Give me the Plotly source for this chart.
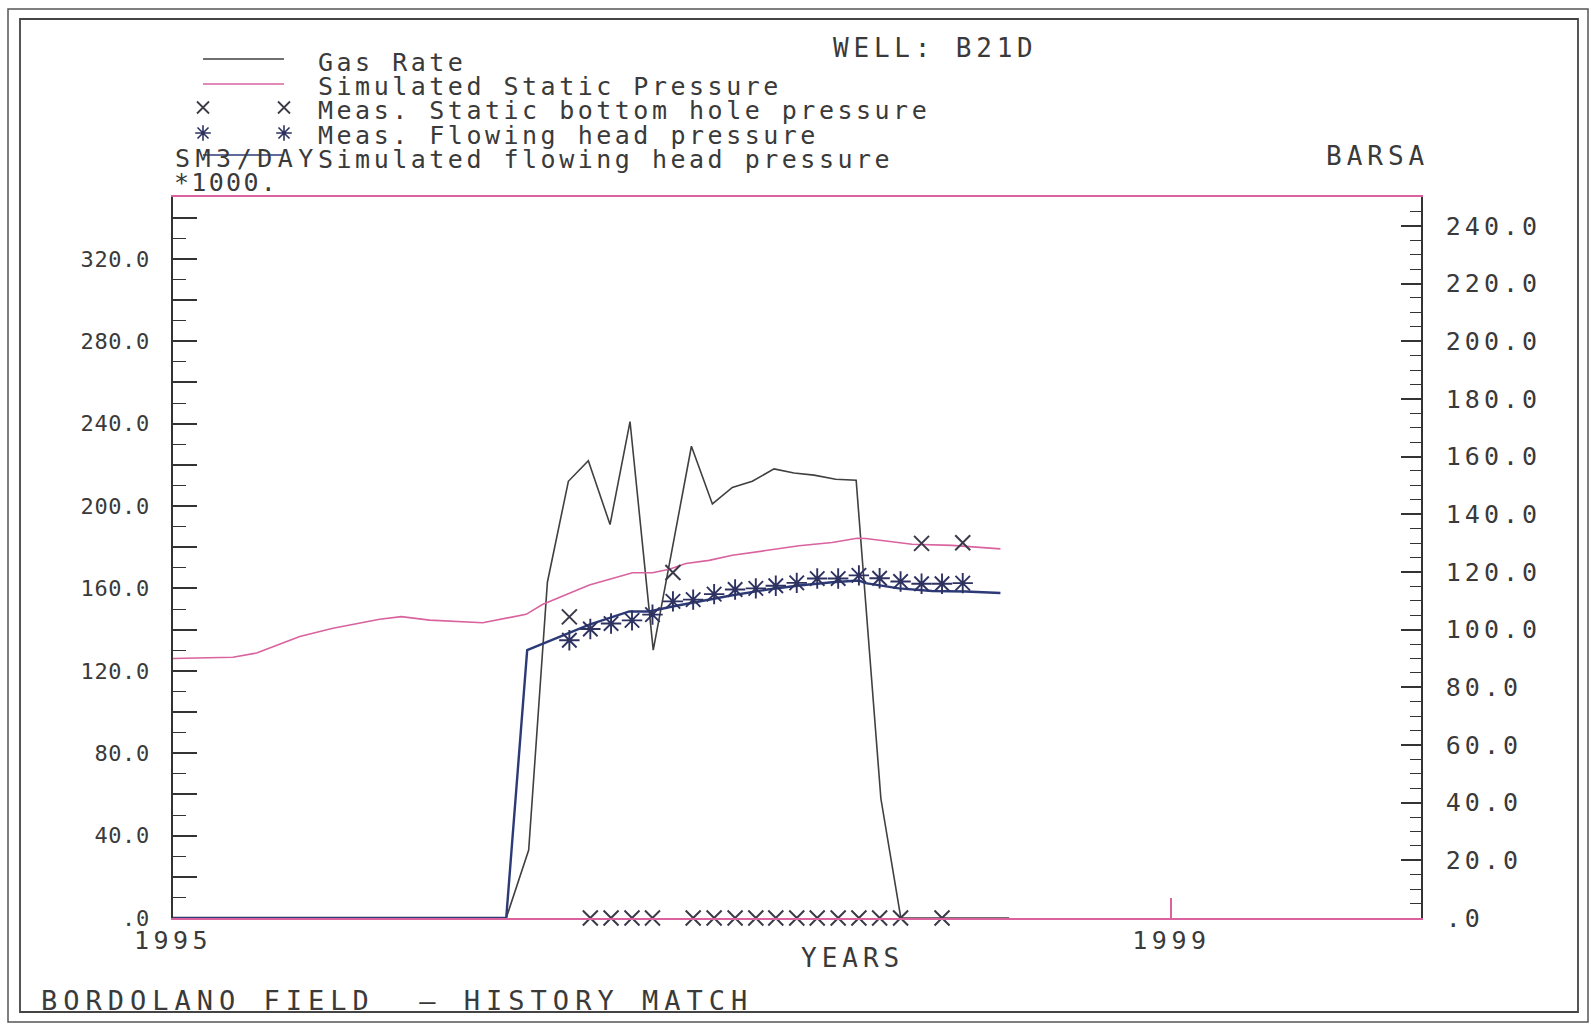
import plotly.graph_objects as go

# ---------------- data ----------------
gas_years = [1995.0, 1996.335, 1996.425, 1996.50, 1996.584, 1996.664, 1996.751, 1996.831,
             1996.924, 1997.077, 1997.161, 1997.241, 1997.321, 1997.408, 1997.488, 1997.568,
             1997.655, 1997.737, 1997.836, 1997.916, 1998.35]
gas_rate = [0, 0, 33, 163, 212, 222, 191, 241, 130, 229, 201, 209, 212, 218, 216, 215,
            213, 212.5, 58, 0, 0]

static_years = [1995.0, 1995.24, 1995.335, 1995.508, 1995.641, 1995.828, 1995.915, 1996.028,
                1996.241, 1996.415, 1996.48, 1996.668, 1996.841, 1996.921, 1996.988, 1997.055,
                1997.148, 1997.241, 1997.375, 1997.508, 1997.641, 1997.741, 1997.775, 1997.961,
                1998.121, 1998.315]
static_sim = [90, 90.4, 91.9, 97.6, 100.5, 103.6, 104.5, 103.3, 102.4, 105.3, 108.7, 115.5,
              119.7, 119.7, 120.9, 122.9, 124.0, 125.8, 127.4, 129.1, 130.2, 131.7, 131.6,
              129.6, 129.2, 128.0]

flow_sim_years = [1995.0, 1996.335, 1996.419, 1996.481, 1996.588, 1996.668, 1996.828, 1996.908,
                  1997.001, 1997.108, 1997.241, 1997.375, 1997.508, 1997.641, 1997.748, 1997.775,
                  1997.908, 1998.041, 1998.175, 1998.315]
flow_sim = [0, 0, 92.9, 95.1, 98.9, 101.7, 106.3, 106.3, 108.0, 109.8, 111.9, 113.8, 115.3,
            116.4, 117.0, 116.1, 114.3, 113.4, 113.2, 112.7]

meas_years = [1996.588, 1996.672, 1996.755, 1996.839, 1996.921, 1997.003, 1997.084, 1997.168,
              1997.252, 1997.335, 1997.415, 1997.499, 1997.581, 1997.665, 1997.748, 1997.831,
              1997.915, 1997.999, 1998.081, 1998.164]
meas_flowing = [96.3, 100.2, 102.1, 103.2, 105.2, 109.8, 110.4, 112.3, 113.9, 114.3, 115.2,
                116.2, 117.7, 117.7, 118.8, 117.8, 116.7, 115.9, 115.9, 116.1]
meas_static = [104.4, 0, 0, 0, 0, 119.8, 0, 0, 0, 0, 0, 0, 0, 0, 0, 0, 0, 129.9, 0, 130.1]

x_tick_vals = [1995, 1999]
x_tick_text = ["1995", "1999"]
left_major = list(range(0, 341, 20))
left_labels = [(".0" if v == 0 else f"{v:.1f}") if v % 40 == 0 else "" for v in left_major]
right_major = list(range(0, 241, 20))
right_labels = [".0" if v == 0 else f"{v:.1f}" for v in right_major]

legend_names = ["Gas Rate", "Simulated Static Pressure", "Meas. Static bottom hole pressure",
                "Meas. Flowing head pressure", "Simulated flowing head pressure"]

# ---------------- styling ----------------
W, H = 1591, 1025
FONT = "DejaVu Sans Mono"
TXT = "#3a3a3a"
GAS_C = "#404040"
PINK = "#d9629f"
BLUE = "#2c3a78"
MARK_C = "#3a3a48"
AST_C = "#2e3260"


def sp(text, spacing):
    return f'<span style="letter-spacing:{spacing}px">{text}</span>'


def px(x):
    return x / W


def py(y):
    return 1 - y / H


X0, X1, Y0, Y1 = 173, 1421, 918, 197   # plot frame in pixels

fig = go.Figure()

fig.add_trace(go.Scatter(x=static_years, y=static_sim, mode="lines", yaxis="y2",
                         line=dict(color=PINK, width=1.6), name=legend_names[1]))
fig.add_trace(go.Scatter(x=flow_sim_years, y=flow_sim, mode="lines", yaxis="y2",
                         line=dict(color=BLUE, width=2.4), name=legend_names[4]))
fig.add_trace(go.Scatter(x=gas_years, y=gas_rate, mode="lines", yaxis="y",
                         line=dict(color=GAS_C, width=1.6), name=legend_names[0]))
fig.add_trace(go.Scatter(x=meas_years, y=meas_static, mode="markers", yaxis="y2",
                         cliponaxis=False,
                         marker=dict(symbol="x-thin-open", size=15, color=MARK_C,
                                     line=dict(color=MARK_C, width=2)),
                         name=legend_names[2]))
fig.add_trace(go.Scatter(x=meas_years, y=meas_flowing, mode="markers", yaxis="y2",
                         cliponaxis=False,
                         marker=dict(symbol="asterisk-open", size=17, color=AST_C,
                                     line=dict(color=AST_C, width=1.9)),
                         name=legend_names[3]))

# legend keys (decoration, drawn on a pixel overlay axis)
key_left, key_right = 203, 284
key_rows = [62, 86.5, 110.5, 135, 159.5]
fig.add_trace(go.Scatter(x=[key_left, key_right], y=[key_rows[2] - 3] * 2, mode="markers",
                         xaxis="x3", yaxis="y3", hoverinfo="skip", cliponaxis=False,
                         marker=dict(symbol="x-thin-open", size=12, color=MARK_C,
                                     line=dict(color=MARK_C, width=1.8))))
fig.add_trace(go.Scatter(x=[key_left, key_right], y=[key_rows[3] - 2] * 2, mode="markers",
                         xaxis="x3", yaxis="y3", hoverinfo="skip", cliponaxis=False,
                         marker=dict(symbol="asterisk-open", size=13, color=AST_C,
                                     line=dict(color=AST_C, width=1.6))))

shapes = []
# page borders
shapes.append(dict(type="rect", xref="paper", yref="paper", x0=px(8), x1=px(1588),
                   y0=py(1022), y1=py(9), line=dict(color="#555555", width=1.5)))
shapes.append(dict(type="rect", xref="paper", yref="paper", x0=px(20), x1=px(1578),
                   y0=py(1012), y1=py(19), line=dict(color="#444444", width=1.8)))
# legend line samples
for yy, col in [(59, GAS_C), (84, PINK), (155, BLUE)]:
    shapes.append(dict(type="line", xref="paper", yref="paper", x0=px(key_left), x1=px(key_right),
                       y0=py(yy), y1=py(yy), line=dict(color=col, width=1.5)))

annotations = []


def label(text, x, y, size, spacing, anchor="left"):
    annotations.append(dict(text=sp(text, spacing), x=px(x), y=py(y), xref="paper", yref="paper",
                            xanchor=anchor, yanchor="middle", showarrow=False,
                            font=dict(family=FONT, size=size, color=TXT)))


for i, nm in enumerate(legend_names):
    label(nm, 316, key_rows[i], 25, 3.5)
label("SM3/DAY", 173, 158, 25, 5.5)
label("*1000.", 172, 183, 25, 2.3)
label("WELL: B21D", 831, 48, 26, 4.8)
label("BARSA", 1324, 156, 26, 5)
label("YEARS", 852, 958, 26, 5, "center")
label("BORDOLANO FIELD  \u2013 HISTORY MATCH", 39, 1000, 27, 6)

left_text = [sp(t, 0.6) for t in left_labels]
right_text = [sp(t, 4) for t in right_labels]
x_text = [sp(t, 4.5) for t in x_tick_text]

fig.update_layout(
    width=W, height=H,
    margin=dict(l=0, r=0, t=0, b=0, pad=0, autoexpand=False),
    paper_bgcolor="white", plot_bgcolor="rgba(0,0,0,0)",
    showlegend=False,
    shapes=shapes, annotations=annotations,
    xaxis=dict(domain=[px(X0), px(X1)], range=[1995, 2000], showgrid=False, zeroline=False,
               automargin=False,
               showline=True, linecolor=PINK, linewidth=1.6, mirror=True,
               ticks="inside", ticklen=20, tickwidth=1.5, tickcolor=PINK,
               tickvals=x_tick_vals, ticktext=x_text, ticklabelstandoff=-1,
               tickfont=dict(family=FONT, size=25, color=TXT)),
    yaxis=dict(domain=[py(Y0), py(Y1)], range=[0, 350], showgrid=False, zeroline=False,
               automargin=False,
               showline=True, linecolor="#333333", linewidth=1.6,
               ticks="inside", ticklen=24, tickwidth=1.6, tickcolor="#333333",
               tickvals=left_major, ticktext=left_text, ticklabelstandoff=17,
               tickfont=dict(family=FONT, size=22, color=TXT),
               minor=dict(tickvals=list(range(10, 350, 20)), ticks="inside", ticklen=13,
                          tickwidth=1.4, tickcolor="#333333")),
    yaxis2=dict(overlaying="y", side="right", anchor="x", range=[0, 250], showgrid=False,
                automargin=False,
                zeroline=False, showline=True, linecolor="#333333", linewidth=1.6,
                ticks="inside", ticklen=20, tickwidth=1.5, tickcolor="#333333",
                tickvals=right_major, ticktext=right_text, ticklabelstandoff=18,
                tickfont=dict(family=FONT, size=25, color=TXT),
                minor=dict(dtick=5, tick0=0, ticks="inside", ticklen=11, tickwidth=1.2,
                           tickcolor="#333333")),
    xaxis3=dict(domain=[0, 1], range=[0, W], visible=False, anchor="y3", fixedrange=True,
                automargin=False),
    yaxis3=dict(domain=[0, 1], range=[H, 0], visible=False, anchor="x3", fixedrange=True,
                automargin=False),
)

fig.write_html("out.html", config={"displayModeBar": False},
               post_script="document.body.style.margin='0';")
